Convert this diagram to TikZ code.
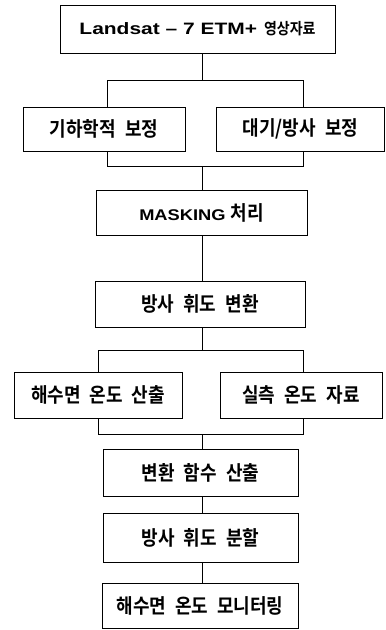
\documentclass[tikz,border=0pt]{standalone}
\usepackage{fontspec}
\IfFontExistsTF{Noto Sans CJK KR Bold}
 {\setmainfont{Noto Sans CJK KR Bold}[WordSpace=2.2]}
 {\IfFontExistsTF{Noto Sans CJK KR Black}
   {\setmainfont{Noto Sans CJK KR Black}[WordSpace=2.2]}
   {\setmainfont{Noto Sans CJK KR}[FakeBold=3.5,WordSpace=2.2]}}
\newfontfamily\lat{Liberation Sans Bold}
\newcommand{\krs}[1]{\scalebox{1}[1.12]{#1}}
\begin{document}
\begin{tikzpicture}[x=1pt,y=1pt,
  box/.style={draw,line width=1pt,inner sep=0pt,font=\fontsize{18}{20}\selectfont},
  ln/.style={line width=1pt}]
\useasboundingbox (0,0) rectangle (386,-630);
\node[box,minimum width=275,minimum height=48] (b1) at (197.5,-29) {\scalebox{1.27}[1]{\lat\fontsize{16.5}{20}\selectfont Landsat – 7 ETM+}\hspace{7pt}{\fontsize{14}{15}\selectfont\krs{영상자료}}};
\node[box,minimum width=162,minimum height=44] (b2) at (104,-129) {\krs{기하학적 보정}};
\node[box,minimum width=168,minimum height=44] (b3) at (300.5,-129) {\krs{대기/방사 보정}};
\node[box,minimum width=211,minimum height=45] (b4) at (201.5,-212.5) {\scalebox{1.18}[1]{\lat\fontsize{15.5}{20}\selectfont MASKING}\hspace{5pt}\krs{처리}};
\node[box,minimum width=210,minimum height=46] (b5) at (200,-304) {\krs{방사 휘도 변환}};
\node[box,minimum width=168,minimum height=46] (b6) at (98,-395) {\krs{해수면 온도 산출}};
\node[box,minimum width=162,minimum height=46] (b7) at (301,-395) {\krs{실측 온도 자료}};
\node[box,minimum width=195,minimum height=47] (b8) at (200.5,-472.5) {\krs{변환 함수 산출}};
\node[box,minimum width=195,minimum height=49] (b9) at (200.5,-537.5) {\krs{방사 휘도 분할}};
\node[box,minimum width=196,minimum height=45] (b10) at (200,-605.5) {\krs{해수면 온도 모니터링}};
\coordinate (t) at (202,0);
\coordinate (s1) at (202,-80);
\coordinate (s1L) at (107,-80);
\coordinate (s1R) at (303,-80);
\coordinate (j1) at (202,-166);
\coordinate (j1L) at (107,-166);
\coordinate (j1R) at (303,-166);
\coordinate (s2) at (202,-350);
\coordinate (s2L) at (98,-350);
\coordinate (s2R) at (303,-350);
\coordinate (j2) at (202,-434);
\coordinate (j2L) at (98,-434);
\coordinate (j2R) at (303,-434);
\draw[ln] (t|-b1.south) -- (s1);
\draw[ln] (s1L|-b2.north) -- (s1L) -- (s1R) -- (s1R|-b3.north);
\draw[ln] (j1L|-b2.south) -- (j1L) -- (j1R) -- (j1R|-b3.south);
\draw[ln] (j1) -- (t|-b4.north);
\draw[ln] (t|-b4.south) -- (t|-b5.north);
\draw[ln] (t|-b5.south) -- (s2);
\draw[ln] (s2L|-b6.north) -- (s2L) -- (s2R) -- (s2R|-b7.north);
\draw[ln] (j2L|-b6.south) -- (j2L) -- (j2R) -- (j2R|-b7.south);
\draw[ln] (j2) -- (t|-b8.north);
\draw[ln] (t|-b8.south) -- (t|-b9.north);
\draw[ln] (t|-b9.south) -- (t|-b10.north);
\end{tikzpicture}
\end{document}
